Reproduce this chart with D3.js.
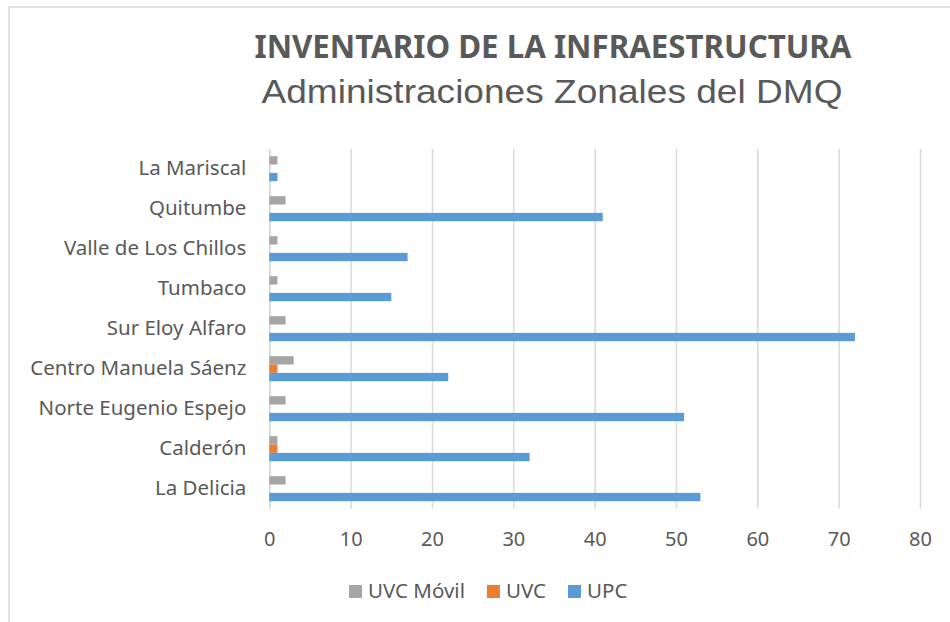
<!DOCTYPE html>
<html>
<head>
<meta charset="utf-8">
<script src="https://cdn.jsdelivr.net/npm/d3@7"></script>
<style>
  body { margin: 0; background: #fff; }
  text { fill: #595959; }
</style>
</head>
<body>
<div id="chart"></div>
<script>
// data
var categories = ["La Mariscal", "Quitumbe", "Valle de Los Chillos", "Tumbaco", "Sur Eloy Alfaro",
                  "Centro Manuela Sáenz", "Norte Eugenio Espejo", "Calderón", "La Delicia"];
var uvcMovil = [1, 2, 1, 1, 2, 3, 2, 1, 2];
var uvc      = [0, 0, 0, 0, 0, 1, 0, 1, 0];
var upc      = [1, 41, 17, 15, 72, 22, 51, 32, 53];
var seriesNames = ["UVC Móvil", "UVC", "UPC"];
var xTicks = [0, 10, 20, 30, 40, 50, 60, 70, 80];

var colors = {"UVC Móvil": "#a5a5a5", "UVC": "#ed7d31", "UPC": "#5b9bd5"};
var seriesValues = {"UVC Móvil": uvcMovil, "UVC": uvc, "UPC": upc};

var W = 950, H = 622;
var margin = {top: 148.7, left: 269.3};
var width = 920 - 269.3, height = 360;

var svg = d3.select("#chart").append("svg")
  .attr("width", W).attr("height", H);

// chart border
svg.append("rect")
  .attr("x", 9).attr("y", 7)
  .attr("width", 960).attr("height", 640)
  .attr("fill", "none")
  .attr("stroke", "#d9d9d9")
  .attr("stroke-width", 1.5);

// titles
svg.append("text")
  .attr("x", 553).attr("y", 58.3)
  .attr("text-anchor", "middle")
  .style("font-family", "'Noto Sans', sans-serif")
  .style("font-weight", "bold")
  .style("font-size", "32px")
  .attr("textLength", 597)
  .attr("lengthAdjust", "spacingAndGlyphs")
  .text("INVENTARIO DE LA INFRAESTRUCTURA");

svg.append("text")
  .attr("x", 552).attr("y", 103.3)
  .attr("text-anchor", "middle")
  .style("font-family", "'Liberation Sans', Arial, sans-serif")
  .style("font-size", "34px")
  .attr("textLength", 581)
  .attr("lengthAdjust", "spacingAndGlyphs")
  .text("Administraciones Zonales del DMQ");

var g = svg.append("g")
  .attr("transform", "translate(" + margin.left + "," + margin.top + ")");

var x = d3.scaleLinear().domain([0, 80]).range([0, width]);

var y0 = d3.scaleBand().domain(categories).range([0, height]).padding(0);
var y1 = d3.scaleBand().domain(seriesNames).range([0, y0.bandwidth()])
  .paddingInner(0).paddingOuter(0.9);

// gridlines
g.append("g")
  .attr("class", "grid")
  .call(d3.axisBottom(x).tickValues(xTicks).tickSize(height).tickFormat(""))
  .call(function(s) {
    s.select(".domain").remove();
    s.selectAll("line").attr("stroke", "#d9d9d9").attr("stroke-width", 1.5);
  });

// x tick labels
g.append("g")
  .attr("transform", "translate(0," + height + ")")
  .call(d3.axisBottom(x).tickValues(xTicks).tickSize(0).tickPadding(0))
  .call(function(s) {
    s.select(".domain").remove();
    s.selectAll("text")
      .attr("y", 37.5)
      .attr("dy", null)
      .style("fill", "#595959")
      .style("font-family", "'Noto Sans', sans-serif")
      .style("font-size", "20px");
  });

// category labels
g.append("g")
  .call(d3.axisLeft(y0).tickSize(0).tickPadding(23))
  .call(function(s) {
    s.select(".domain").attr("stroke", "#d9d9d9").attr("stroke-width", 1.5);
    s.selectAll("text")
      .style("fill", "#595959")
      .style("font-family", "'Noto Sans', sans-serif")
      .style("font-size", "20.5px");
  });

// bars
var groups = g.selectAll(".cat")
  .data(categories)
  .enter().append("g")
  .attr("class", "cat")
  .attr("transform", function(d) { return "translate(0," + y0(d) + ")"; });

groups.selectAll("rect")
  .data(function(d, i) {
    return seriesNames.map(function(s) { return {series: s, value: seriesValues[s][i]}; });
  })
  .enter().append("rect")
  .attr("x", x(0))
  .attr("y", function(d) { return y1(d.series); })
  .attr("width", function(d) { return x(d.value) - x(0); })
  .attr("height", y1.bandwidth())
  .attr("fill", function(d) { return colors[d.series]; });

// legend
var legend = svg.append("g").attr("transform", "translate(349,585)");
var lx = 0;
seriesNames.forEach(function(s) {
  var item = legend.append("g").attr("transform", "translate(" + lx + ",0)");
  item.append("rect")
    .attr("width", 13).attr("height", 13)
    .attr("fill", colors[s]);
  var t = item.append("text")
    .attr("x", 19).attr("y", 13.2)
    .style("font-family", "'Noto Sans', sans-serif")
    .style("font-size", "20.5px")
    .text(s);
  lx += 19 + t.node().getComputedTextLength() + 22;
});
</script>
</body>
</html>
